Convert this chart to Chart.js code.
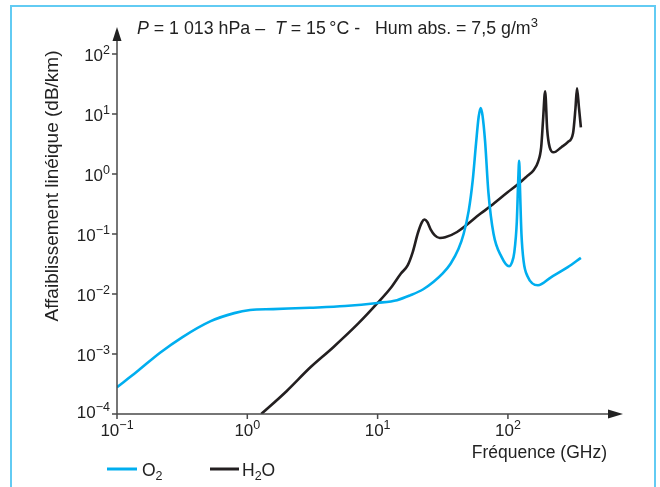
<!DOCTYPE html>
<html lang="fr">
<head>
<meta charset="utf-8">
<title>Affaiblissement linéique</title>
<script src="https://cdn.jsdelivr.net/npm/chart.js@4.4.1/dist/chart.umd.min.js"></script>
<style>
    html, body { margin: 0; padding: 0; background: #fff; }
    canvas { display: block; }
</style>
</head>
<body>
<canvas id="attChart" width="660" height="487"></canvas>
<script>
// Values: frequency in GHz, attenuation in dB/km
const o2Freq = [0.1, 0.141, 0.214, 0.316, 0.519, 0.794, 1.05, 1.58, 3.02, 5.62, 10, 14.1, 17.8, 22.4, 26.9, 31.6, 36.3, 41.7, 45.7, 50.1, 53.7, 56.9, 59.6, 61.7, 63.8, 66.8, 70.8, 77.6, 89.1, 102, 107, 112, 117, 120, 122, 124, 127, 132, 141, 170, 214, 288, 363];
const o2Att = [2.8e-4, 5.0e-4, 1.05e-3, 1.9e-3, 3.5e-3, 4.8e-3, 5.4e-3, 5.6e-3, 5.9e-3, 6.3e-3, 7.1e-3, 7.9e-3, 9.5e-3, 0.012, 0.016, 0.022, 0.032, 0.056, 0.1, 0.25, 0.79, 3.2, 8.9, 12.6, 9.5, 3.5, 0.5, 0.1, 0.042, 0.029, 0.033, 0.05, 0.16, 0.8, 1.66, 0.5, 0.1, 0.035, 0.02, 0.014, 0.019, 0.028, 0.04];

const h2oFreq = [1.28, 2.0, 3.05, 4.57, 7.08, 10, 12.6, 15.1, 17.0, 18.6, 20.4, 21.9, 22.9, 24.0, 25.5, 27.5, 30.0, 33.0, 40.7, 61.7, 74.1, 100, 120, 141, 158, 170, 180, 186, 193, 200, 209, 224, 257, 288, 316, 330, 339, 351, 363];
const h2oAtt = [1e-4, 2.4e-4, 6.0e-4, 1.3e-3, 3.2e-3, 7.1e-3, 0.0126, 0.022, 0.030, 0.050, 0.105, 0.158, 0.174, 0.16, 0.12, 0.095, 0.086, 0.088, 0.108, 0.219, 0.295, 0.50, 0.68, 0.93, 1.17, 1.58, 2.8, 7.9, 24, 5.6, 2.8, 2.3, 2.8, 3.4, 4.8, 12.6, 26.9, 12.6, 6.0];

const xTicks = [0.1, 1, 10, 100];
const yTicks = [1e-4, 1e-3, 1e-2, 1e-1, 1, 10, 100];

const O2_COLOR = '#00aeef';
const H2O_COLOR = '#231f20';
const AXIS_COLOR = '#4a4a4a';
const FONT = '"Liberation Sans", Arial, sans-serif';

function toPoints(xs, ys) {
    return xs.map((x, i) => ({ x: x, y: ys[i] }));
}

function expText(v) {
    const e = Math.round(Math.log10(v));
    return e < 0 ? '\u2212' + Math.abs(e) : String(e);
}

// "10" followed by a raised exponent
function drawPow(ctx, v, x, y, align) {
    const exp = expText(v);
    ctx.font = '17px ' + FONT;
    const wBase = ctx.measureText('10').width;
    ctx.font = '12.5px ' + FONT;
    const wExp = ctx.measureText(exp).width;
    const left = align === 'right' ? x - wBase - wExp : x - (wBase + wExp) / 2;
    ctx.textAlign = 'left';
    ctx.textBaseline = 'alphabetic';
    ctx.font = '17px ' + FONT;
    ctx.fillText('10', left, y);
    ctx.font = '12.5px ' + FONT;
    ctx.fillText(exp, left + wBase, y - 7);
}

// draws a run of text pieces: [text, style, dy, size]
function drawRuns(ctx, runs, x, y, size) {
    let cx = x;
    runs.forEach(r => {
        ctx.font = (r[1] || '') + ' ' + (r[3] || size) + 'px ' + FONT;
        ctx.fillText(r[0], cx, y + (r[2] || 0));
        cx += ctx.measureText(r[0]).width;
    });
    return cx;
}

const decorPlugin = {
    id: 'decor',
    beforeDraw(chart) {
        const ctx = chart.ctx;
        ctx.save();
        ctx.fillStyle = '#fff';
        ctx.fillRect(0, 0, chart.width, chart.height);
        // figure frame
        ctx.strokeStyle = '#62cbf3';
        ctx.lineWidth = 2;
        ctx.beginPath();
        ctx.moveTo(11, chart.height + 5);
        ctx.lineTo(11, 6);
        ctx.lineTo(655, 6);
        ctx.lineTo(655, chart.height + 5);
        ctx.stroke();
        ctx.restore();
    },
    afterDraw(chart) {
        const ctx = chart.ctx;
        const xs = chart.scales.x;
        const ys = chart.scales.y;
        const area = chart.chartArea;
        const x0 = xs.getPixelForValue(0.1);
        const y0 = ys.getPixelForValue(1e-4);

        ctx.save();
        ctx.strokeStyle = AXIS_COLOR;
        ctx.fillStyle = '#222';
        ctx.lineWidth = 1.5;

        // axes
        ctx.beginPath();
        ctx.moveTo(x0, y0);
        ctx.lineTo(area.right - 6, y0);
        ctx.moveTo(x0, y0);
        ctx.lineTo(x0, area.top + 6);
        ctx.stroke();

        // arrow heads
        ctx.beginPath();
        ctx.moveTo(area.right, y0);
        ctx.lineTo(area.right - 15, y0 - 4.5);
        ctx.lineTo(area.right - 15, y0 + 4.5);
        ctx.closePath();
        ctx.fill();
        ctx.beginPath();
        ctx.moveTo(x0, area.top);
        ctx.lineTo(x0 - 4.5, area.top + 14);
        ctx.lineTo(x0 + 4.5, area.top + 14);
        ctx.closePath();
        ctx.fill();

        // ticks
        ctx.beginPath();
        yTicks.forEach(v => {
            const py = ys.getPixelForValue(v);
            ctx.moveTo(x0 - 5, py);
            ctx.lineTo(x0, py);
        });
        xTicks.forEach(v => {
            const px = xs.getPixelForValue(v);
            ctx.moveTo(px, y0);
            ctx.lineTo(px, y0 + 5);
        });
        ctx.stroke();

        // tick labels
        ctx.fillStyle = '#222';
        yTicks.forEach((v, i) => {
            const py = ys.getPixelForValue(v);
            drawPow(ctx, v, x0 - 7, py + (i === 0 ? 4 : 7), 'right');
        });
        xTicks.forEach(v => {
            const px = xs.getPixelForValue(v);
            drawPow(ctx, v, px, y0 + 22, 'center');
        });

        // title
        ctx.textAlign = 'left';
        drawRuns(ctx, [
            ['P', 'italic'], [' = 1 013 hPa \u2013  '], ['T', 'italic'],
            [' = 15\u202f\u00b0C -   Hum abs. = 7,5 g/m'], ['3', '', -7, 13]
        ], 137, 34, 17.8);

        // axis titles
        ctx.font = '17.5px ' + FONT;
        ctx.textAlign = 'right';
        ctx.fillText('Fréquence (GHz)', 607, 458);
        ctx.save();
        ctx.translate(58, 186);
        ctx.rotate(-Math.PI / 2);
        ctx.textAlign = 'center';
        ctx.font = '19px ' + FONT;
        ctx.fillText('Affaiblissement linéique (dB/km)', 0, 0);
        ctx.restore();

        // legend
        ctx.textAlign = 'left';
        ctx.lineWidth = 3;
        ctx.strokeStyle = O2_COLOR;
        ctx.beginPath();
        ctx.moveTo(107, 469);
        ctx.lineTo(137, 469);
        ctx.stroke();
        drawRuns(ctx, [['O'], ['2', '', 4, 12.5]], 142, 476, 17.5);
        ctx.strokeStyle = H2O_COLOR;
        ctx.beginPath();
        ctx.moveTo(210, 469);
        ctx.lineTo(239, 469);
        ctx.stroke();
        drawRuns(ctx, [['H'], ['2', '', 4, 12.5], ['O']], 242, 476, 17.5);

        ctx.restore();
    }
};

new Chart(document.getElementById('attChart'), {
    type: 'scatter',
    data: {
        datasets: [
            {
                label: 'O\u2082',
                data: toPoints(o2Freq, o2Att),
                showLine: true,
                borderColor: O2_COLOR,
                borderWidth: 2.6,
                pointRadius: 0,
                cubicInterpolationMode: 'monotone'
            },
            {
                label: 'H\u2082O',
                data: toPoints(h2oFreq, h2oAtt),
                showLine: true,
                borderColor: H2O_COLOR,
                borderWidth: 2.6,
                pointRadius: 0,
                cubicInterpolationMode: 'monotone'
            }
        ]
    },
    options: {
        responsive: false,
        animation: false,
        events: [],
        layout: { padding: { left: 117, right: 37, top: 27, bottom: 73 } },
        plugins: {
            legend: { display: false },
            tooltip: { enabled: false }
        },
        scales: {
            x: { type: 'logarithmic', min: 0.1, max: 764, display: false },
            y: { type: 'logarithmic', min: 1e-4, max: 282, display: false }
        }
    },
    plugins: [decorPlugin]
});
</script>
</body>
</html>
